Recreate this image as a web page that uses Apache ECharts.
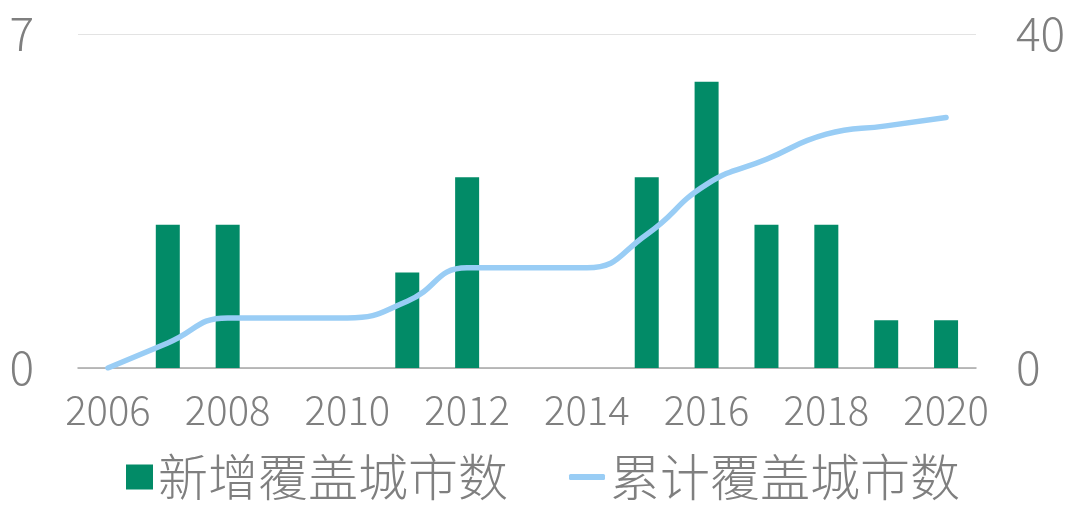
<!DOCTYPE html>
<html>
<head>
<meta charset="utf-8">
<script src="https://cdn.jsdelivr.net/npm/echarts@6/dist/echarts.min.js"></script>
<style>html,body{margin:0;padding:0;background:#fff}#c{width:1080px;height:516px}</style>
</head>
<body>
<div id="c"></div>
<script>
var years = ['2006','2007','2008','2009','2010','2011','2012','2013','2014','2015','2016','2017','2018','2019','2020'];
var newCities = [0,3,3,0,0,2,4,0,0,4,6,3,3,1,1];
var cumulativeCities = [0,3,6,6,6,8,12,12,12,16,22,25,28,29,30];
var leftTicks = [0,7];
var rightTicks = [0,40];
var seriesNames = ['新增覆盖城市数','累计覆盖城市数'];

var FONT = '"Noto Sans CJK SC", "Noto Sans", sans-serif';
var GRAY = '#7F7F7F';
var chart = echarts.init(document.getElementById('c'));
chart.setOption({
  backgroundColor: '#fff',
  animation: false,
  textStyle: {fontFamily: FONT},
  grid: {left: 78, right: 104, top: 34, bottom: 148, containLabel: false},
  legend: [{
    data: [seriesNames[0]],
    left: 121, top: 447,
    icon: 'rect', itemWidth: 27, itemHeight: 25,
    textStyle: {color: GRAY, fontSize: 50, fontFamily: FONT, fontWeight: 300}
  },{
    data: [seriesNames[1]],
    left: 564, top: 447,
    icon: 'roundRect', itemWidth: 36, itemHeight: 6,
    textStyle: {color: GRAY, fontSize: 50, fontFamily: FONT, fontWeight: 300}
  }],
  xAxis: {
    type: 'category',
    data: years,
    axisLine: {lineStyle: {color: '#A6A6A6', width: 1.5}},
    axisTick: {show: false},
    axisLabel: {interval: 1, color: GRAY, fontSize: 40, fontFamily: FONT, fontWeight: 300, margin: 22}
  },
  yAxis: [{
    type: 'value', min: leftTicks[0], max: leftTicks[1], interval: leftTicks[1] - leftTicks[0],
    axisLine: {show: false}, axisTick: {show: false},
    splitLine: {lineStyle: {color: '#E3E3E3', width: 1}},
    axisLabel: {color: GRAY, fontSize: 46, fontFamily: FONT, fontWeight: 300, margin: 44}
  },{
    type: 'value', min: rightTicks[0], max: rightTicks[1], interval: rightTicks[1] - rightTicks[0],
    axisLine: {show: false}, axisTick: {show: false},
    splitLine: {show: false},
    axisLabel: {color: GRAY, fontSize: 46, fontFamily: FONT, fontWeight: 300, margin: 40}
  }],
  series: [{
    name: seriesNames[0],
    type: 'bar',
    yAxisIndex: 0,
    data: newCities,
    barWidth: 24,
    itemStyle: {color: '#028B67'}
  },{
    name: seriesNames[1],
    type: 'line',
    yAxisIndex: 1,
    data: cumulativeCities,
    smooth: 0.5,
    showSymbol: false,
    symbol: 'none',
    lineStyle: {color: '#99CDF5', width: 5.5, cap: 'round'},
    itemStyle: {color: '#99CDF5'},
    z: 3
  }]
});
</script>
</body>
</html>
